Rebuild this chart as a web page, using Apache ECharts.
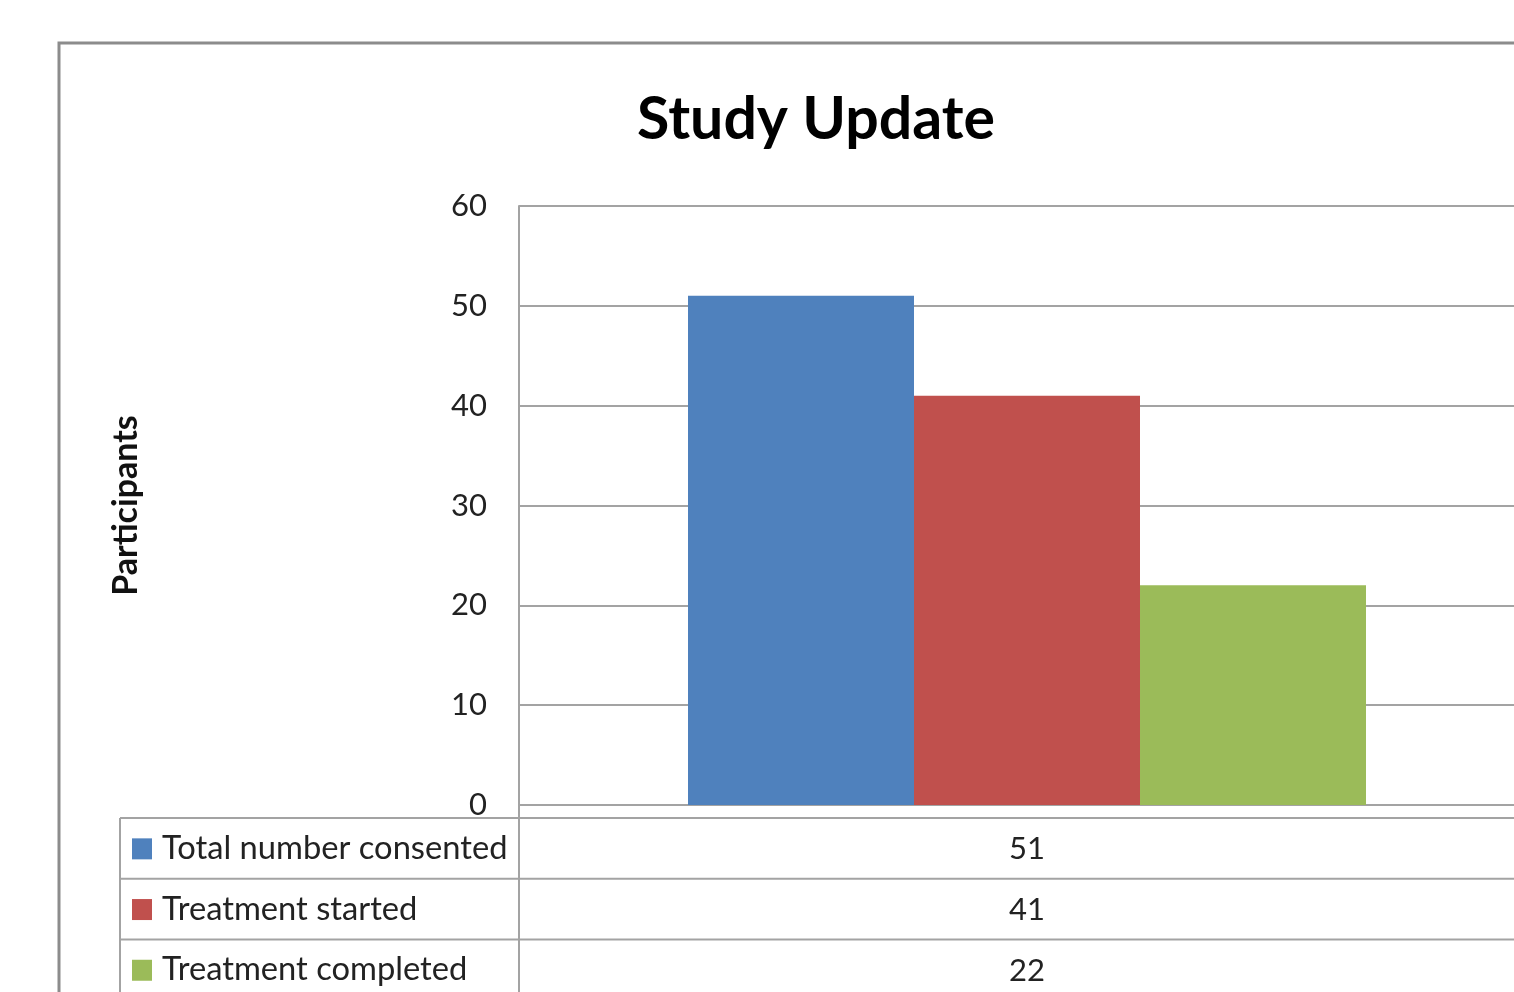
<!DOCTYPE html>
<html><head><meta charset="utf-8">
<script src="https://cdn.jsdelivr.net/npm/echarts@6/dist/echarts.min.js"></script>
<style>html,body{margin:0;padding:0;overflow:hidden;background:#fff}#c{width:1540px;height:992px}</style>
</head><body><div id="c"></div>
<script>
const chartTitle = 'Study Update';
const yAxisName = 'Participants';
const categories = [''];
const seriesNames = ['Total number consented', 'Treatment started', 'Treatment completed'];
const totalConsented = [51];
const treatmentStarted = [41];
const treatmentCompleted = [22];
const yTickLabels = [0, 10, 20, 30, 40, 50, 60];
const colors = ['#4F81BD', '#C0504D', '#9BBB59'];

const seriesValues = [totalConsented, treatmentStarted, treatmentCompleted];
const FONT = 'Lato';
const LINE = '#a3a3a3';
const chart = echarts.init(document.getElementById('c'), null, {renderer: 'canvas'});

const gridLeft = 519, gridTop = 206, gridW = 1016, gridH = 599;
const tableTop = 818, rowH = 60.7, tableLeft = 120;

chart.setOption({
  animation: false,
  backgroundColor: '#fff',
  title: {
    text: chartTitle, left: 811, top: 85, textAlign: 'center',
    textStyle: {fontFamily: FONT, fontWeight: 'bold', fontSize: 59, color: '#000'}
  },
  grid: {left: gridLeft, top: gridTop, width: gridW, height: gridH, containLabel: false},
  xAxis: {
    type: 'category', data: categories,
    axisLine: {show: true, lineStyle: {color: LINE, width: 2}},
    axisTick: {show: false}, axisLabel: {show: false}, splitLine: {show: false}
  },
  yAxis: {
    type: 'value', min: yTickLabels[0], max: yTickLabels[yTickLabels.length - 1],
    interval: yTickLabels[1] - yTickLabels[0],
    name: yAxisName, nameLocation: 'middle', nameRotate: 90, nameGap: 376,
    nameTextStyle: {fontFamily: FONT, fontWeight: 'bold', fontSize: 34, color: '#111'},
    axisLine: {show: true, lineStyle: {color: LINE, width: 2}},
    axisTick: {show: false},
    axisLabel: {margin: 32, fontFamily: FONT, fontSize: 31, color: '#222'},
    splitLine: {show: true, lineStyle: {color: LINE, width: 2}}
  },
  series: seriesNames.map((n, i) => ({
    name: n, type: 'bar', data: seriesValues[i], barWidth: 226, barGap: '0%',
    itemStyle: {color: colors[i]}
  }))
});

const cx = chart.convertToPixel({xAxisIndex: 0}, 0);
const g = [];
// outer border
g.push({type: 'rect', shape: {x: 59, y: 43, width: 1700, height: 1200}, style: {fill: 'none', stroke: '#8c8c8c', lineWidth: 3}, z: 0});
// table lines
g.push({type: 'line', shape: {x1: tableLeft, y1: tableTop, x2: 1600, y2: tableTop}, style: {stroke: LINE, lineWidth: 2}});
for (let r = 1; r <= seriesNames.length; r++) {
  const y = tableTop + r * rowH;
  g.push({type: 'line', shape: {x1: tableLeft, y1: y, x2: 1600, y2: y}, style: {stroke: LINE, lineWidth: 2}});
}
g.push({type: 'line', shape: {x1: tableLeft, y1: tableTop, x2: tableLeft, y2: 1100}, style: {stroke: LINE, lineWidth: 2}});
g.push({type: 'line', shape: {x1: gridLeft, y1: gridTop + gridH, x2: gridLeft, y2: 1100}, style: {stroke: LINE, lineWidth: 2}});
seriesNames.forEach((n, i) => {
  const yc = tableTop + (i + 0.5) * rowH;
  g.push({type: 'rect', shape: {x: 132, y: yc - 10, width: 20, height: 21}, style: {fill: colors[i]}});
  g.push({type: 'text', x: 162, y: yc, style: {text: n, fontFamily: FONT, fontSize: 32.7, fill: '#222', verticalAlign: 'middle', textAlign: 'left'}});
  g.push({type: 'text', x: cx, y: yc + 1, style: {text: String(seriesValues[i][0]), fontFamily: FONT, fontSize: 31, fill: '#222', verticalAlign: 'middle', textAlign: 'center'}});
});
chart.setOption({graphic: g});
</script></body></html>
